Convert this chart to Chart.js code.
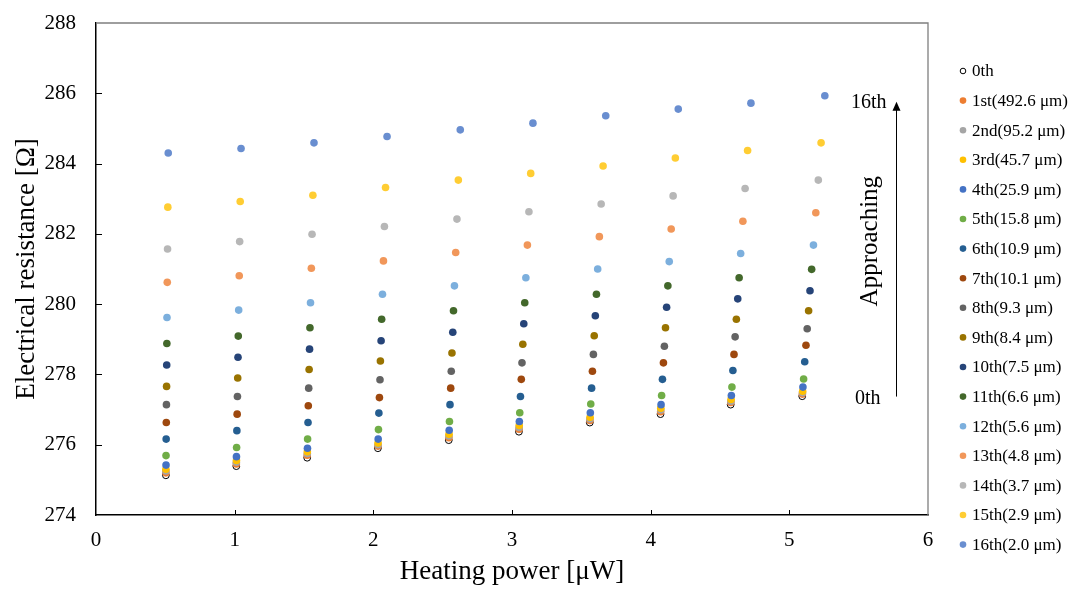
<!DOCTYPE html>
<html>
<head>
<meta charset="utf-8">
<script src="https://cdn.jsdelivr.net/npm/chart.js@4"></script>
<style>
  html, body { margin:0; padding:0; background:#fff; }
  #wrap { width:1077px; height:589px; }
</style>
</head>
<body>
<div id="wrap"><canvas id="chart" width="1077" height="589"></canvas></div>
<script>
// heating power [uW] per measurement, one array per position
const pw0  = [0.504, 1.012, 1.523, 2.033, 2.544, 3.050, 3.561, 4.071, 4.577, 5.093];
const pw1  = [0.504, 1.012, 1.523, 2.034, 2.545, 3.051, 3.562, 4.072, 4.578, 5.094];
const pw2  = [0.504, 1.012, 1.524, 2.034, 2.545, 3.051, 3.562, 4.073, 4.579, 5.095];
const pw3  = [0.504, 1.013, 1.524, 2.034, 2.546, 3.052, 3.563, 4.073, 4.580, 5.096];
const pw4  = [0.505, 1.013, 1.525, 2.035, 2.547, 3.053, 3.565, 4.075, 4.582, 5.098];
const pw5  = [0.505, 1.014, 1.526, 2.037, 2.549, 3.056, 3.568, 4.079, 4.586, 5.103];
const pw6  = [0.506, 1.016, 1.529, 2.040, 2.553, 3.061, 3.574, 4.085, 4.593, 5.111];
const pw7  = [0.507, 1.018, 1.531, 2.044, 2.558, 3.067, 3.580, 4.092, 4.601, 5.120];
const pw8  = [0.508, 1.020, 1.534, 2.048, 2.562, 3.072, 3.587, 4.099, 4.609, 5.129];
const pw9  = [0.509, 1.022, 1.537, 2.051, 2.567, 3.078, 3.593, 4.107, 4.618, 5.139];
const pw10 = [0.510, 1.024, 1.540, 2.056, 2.573, 3.085, 3.601, 4.115, 4.628, 5.149];
const pw11 = [0.511, 1.026, 1.543, 2.060, 2.578, 3.092, 3.609, 4.124, 4.638, 5.161];
const pw12 = [0.512, 1.029, 1.547, 2.066, 2.585, 3.100, 3.618, 4.134, 4.649, 5.174];
const pw13 = [0.514, 1.033, 1.553, 2.073, 2.594, 3.111, 3.630, 4.148, 4.665, 5.191];
const pw14 = [0.516, 1.036, 1.558, 2.080, 2.603, 3.122, 3.643, 4.162, 4.681, 5.209];
const pw15 = [0.518, 1.040, 1.564, 2.088, 2.613, 3.135, 3.657, 4.178, 4.699, 5.229];
const pw16 = [0.521, 1.046, 1.572, 2.099, 2.627, 3.151, 3.676, 4.199, 4.723, 5.256];

// electrical resistance [Ohm]
const r0  = [275.13, 275.39, 275.63, 275.90, 276.13, 276.37, 276.63, 276.87, 277.14, 277.38];
const r1  = [275.20, 275.45, 275.70, 275.96, 276.20, 276.44, 276.69, 276.94, 277.20, 277.44];
const r2  = [275.25, 275.50, 275.75, 276.00, 276.25, 276.49, 276.73, 276.99, 277.24, 277.48];
const r3  = [275.30, 275.55, 275.80, 276.05, 276.30, 276.55, 276.78, 277.04, 277.29, 277.52];
const r4  = [275.42, 275.66, 275.90, 276.16, 276.41, 276.66, 276.91, 277.14, 277.40, 277.64];
const r5  = [275.69, 275.92, 276.16, 276.43, 276.66, 276.91, 277.16, 277.40, 277.64, 277.87];
const r6  = [276.16, 276.40, 276.63, 276.90, 277.14, 277.37, 277.61, 277.86, 278.11, 278.36];
const r7  = [276.63, 276.87, 277.11, 277.34, 277.61, 277.86, 278.09, 278.33, 278.57, 278.83];
const r8  = [277.14, 277.37, 277.61, 277.85, 278.09, 278.33, 278.57, 278.80, 279.07, 279.30];
const r9  = [277.66, 277.90, 278.14, 278.38, 278.61, 278.86, 279.10, 279.33, 279.57, 279.81];
const r10 = [278.27, 278.49, 278.72, 278.96, 279.20, 279.44, 279.67, 279.91, 280.15, 280.38];
const r11 = [278.88, 279.09, 279.33, 279.57, 279.81, 280.04, 280.28, 280.52, 280.75, 280.99];
const r12 = [279.62, 279.83, 280.04, 280.28, 280.52, 280.75, 281.00, 281.21, 281.44, 281.68];
const r13 = [280.62, 280.81, 281.02, 281.23, 281.47, 281.68, 281.92, 282.14, 282.36, 282.60];
const r14 = [281.57, 281.78, 281.99, 282.21, 282.42, 282.63, 282.85, 283.08, 283.29, 283.53];
const r15 = [282.76, 282.92, 283.10, 283.32, 283.53, 283.72, 283.93, 284.16, 284.37, 284.59];
const r16 = [284.30, 284.43, 284.59, 284.77, 284.96, 285.15, 285.36, 285.55, 285.72, 285.93];

const seriesNames = [
  '0th', '1st(492.6 μm)', '2nd(95.2 μm)', '3rd(45.7 μm)', '4th(25.9 μm)',
  '5th(15.8 μm)', '6th(10.9 μm)', '7th(10.1 μm)', '8th(9.3 μm)', '9th(8.4 μm)',
  '10th(7.5 μm)', '11th(6.6 μm)', '12th(5.6 μm)', '13th(4.8 μm)', '14th(3.7 μm)',
  '15th(2.9 μm)', '16th(2.0 μm)'
];
const seriesColors = [
  '#ffffff', '#ED7D31', '#A5A5A5', '#FFC000', '#4472C4',
  '#70AD47', '#255E91', '#9E480E', '#636363', '#997300',
  '#264478', '#43682B', '#7CAFDD', '#F1975A', '#B7B7B7',
  '#FFCD33', '#698ED0'
];
const powerSets  = [pw0, pw1, pw2, pw3, pw4, pw5, pw6, pw7, pw8, pw9, pw10, pw11, pw12, pw13, pw14, pw15, pw16];
const resistSets = [r0, r1, r2, r3, r4, r5, r6, r7, r8, r9, r10, r11, r12, r13, r14, r15, r16];

const xTicks = [0, 1, 2, 3, 4, 5, 6];
const yTicks = [274, 276, 278, 280, 282, 284, 286, 288];

// "Approaching" note, placed in data units
const noteX = 5.77, noteLow = 277.37, noteHigh = 285.76;

const SERIF = "'Liberation Serif', 'Times New Roman', serif";
Chart.defaults.font.family = SERIF;
Chart.defaults.color = '#000';

const datasets = seriesNames.map((name, i) => ({
  label: name,
  data: powerSets[i].map((x, j) => ({ x, y: resistSets[i][j] })),
  backgroundColor: seriesColors[i],
  borderColor: i === 0 ? '#000' : seriesColors[i],
  borderWidth: i === 0 ? 1 : 0,
  pointRadius: i === 0 ? 3.4 : 3.8,
  pointHoverRadius: 3.8,
  order: seriesNames.length - i,   // later series on top, like the original
}));

// inner tick marks + grey frame on top/right
const frameTicks = {
  id: 'frameTicks',
  afterDatasetsDraw(chart) {
    const {ctx, chartArea: a, scales: {x, y}} = chart;
    ctx.save();
    ctx.strokeStyle = '#7f7f7f';
    ctx.lineWidth = 1.3;
    ctx.beginPath();
    ctx.moveTo(a.left, a.top); ctx.lineTo(a.right, a.top); ctx.lineTo(a.right, a.bottom);
    ctx.stroke();
    ctx.strokeStyle = '#000';
    ctx.lineWidth = 1;
    ctx.beginPath();
    xTicks.slice(1, -1).forEach(v => {
      const px = Math.round(x.getPixelForValue(v)) + 0.5;
      ctx.moveTo(px, a.bottom); ctx.lineTo(px, a.bottom - 5);
    });
    yTicks.slice(1, -1).forEach(v => {
      const py = Math.round(y.getPixelForValue(v)) + 0.5;
      ctx.moveTo(a.left, py); ctx.lineTo(a.left + 6, py);
    });
    ctx.stroke();
    ctx.restore();
  }
};

// legend column on the right
const sideLegend = {
  id: 'sideLegend',
  afterDraw(chart) {
    const {ctx} = chart;
    ctx.save();
    ctx.font = `17px ${SERIF}`;
    ctx.textAlign = 'left';
    ctx.textBaseline = 'middle';
    chart.data.datasets.forEach((ds, i) => {
      const yy = 71 + i * 29.6;
      ctx.beginPath();
      ctx.arc(963, yy, i === 0 ? 2.8 : 3.3, 0, Math.PI * 2);
      ctx.fillStyle = ds.backgroundColor;
      ctx.fill();
      if (i === 0) { ctx.strokeStyle = '#000'; ctx.lineWidth = 1; ctx.stroke(); }
      ctx.fillStyle = '#000';
      ctx.fillText(ds.label, 972, yy + 1);
    });
    ctx.restore();
  }
};

// arrow + "Approaching", "16th", "0th"
const approachNote = {
  id: 'approachNote',
  afterDraw(chart) {
    const {ctx, scales: {x, y}} = chart;
    const ax = Math.round(x.getPixelForValue(noteX)) + 0.5;
    const yLo = y.getPixelForValue(noteLow);
    const yHi = y.getPixelForValue(noteHigh);
    ctx.save();
    ctx.strokeStyle = '#000';
    ctx.fillStyle = '#000';
    ctx.lineWidth = 1;
    ctx.beginPath();
    ctx.moveTo(ax, yLo); ctx.lineTo(ax, yHi + 8);
    ctx.stroke();
    ctx.beginPath();
    ctx.moveTo(ax, yHi); ctx.lineTo(ax - 4, yHi + 9); ctx.lineTo(ax + 4, yHi + 9);
    ctx.closePath(); ctx.fill();

    ctx.font = `20px ${SERIF}`;
    ctx.textAlign = 'right';
    ctx.textBaseline = 'middle';
    ctx.fillText('16th', ax - 10, yHi + 1);
    ctx.fillText('0th', ax - 16, yLo + 2);

    ctx.font = `25px ${SERIF}`;
    ctx.textAlign = 'center';
    ctx.translate(ax - 26, (yLo + yHi) / 2 - 8);
    ctx.rotate(-Math.PI / 2);
    ctx.fillText('Approaching', 0, 0);
    ctx.restore();
  }
};

new Chart(document.getElementById('chart'), {
  type: 'scatter',
  data: { datasets },
  options: {
    responsive: false,
    animation: false,
    layout: { padding: { left: 0, top: 23, right: 149, bottom: 0 } },
    plugins: { legend: { display: false }, tooltip: { enabled: false } },
    scales: {
      x: {
        type: 'linear', min: 0, max: 6,
        afterFit: s => { s.height = 74; s.paddingLeft = 0; s.paddingRight = 0; },
        afterBuildTicks: s => { s.ticks = xTicks.map(v => ({ value: v })); },
        grid: { display: false, drawTicks: false },
        border: { display: true, color: '#000', width: 1.5 },
        ticks: { padding: 13, font: { size: 21 }, color: '#000' },
        title: { display: true, text: 'Heating power [μW]', font: { size: 27 }, padding: { top: 0, bottom: 1 }, color: '#000' },
      },
      y: {
        type: 'linear', min: 274, max: 288,
        afterFit: s => { s.width = 96; s.paddingTop = 0; s.paddingBottom = 0; },
        afterBuildTicks: s => { s.ticks = yTicks.map(v => ({ value: v })); },
        grid: { display: false, drawTicks: false },
        border: { display: true, color: '#000', width: 1.5 },
        ticks: { padding: 20, font: { size: 21 }, color: '#000' },
        title: { display: true, text: 'Electrical resistance [Ω]', font: { size: 27 }, padding: { top: 11, bottom: 0 }, color: '#000' },
      },
    },
  },
  plugins: [frameTicks, sideLegend, approachNote],
});
</script>
</body>
</html>
